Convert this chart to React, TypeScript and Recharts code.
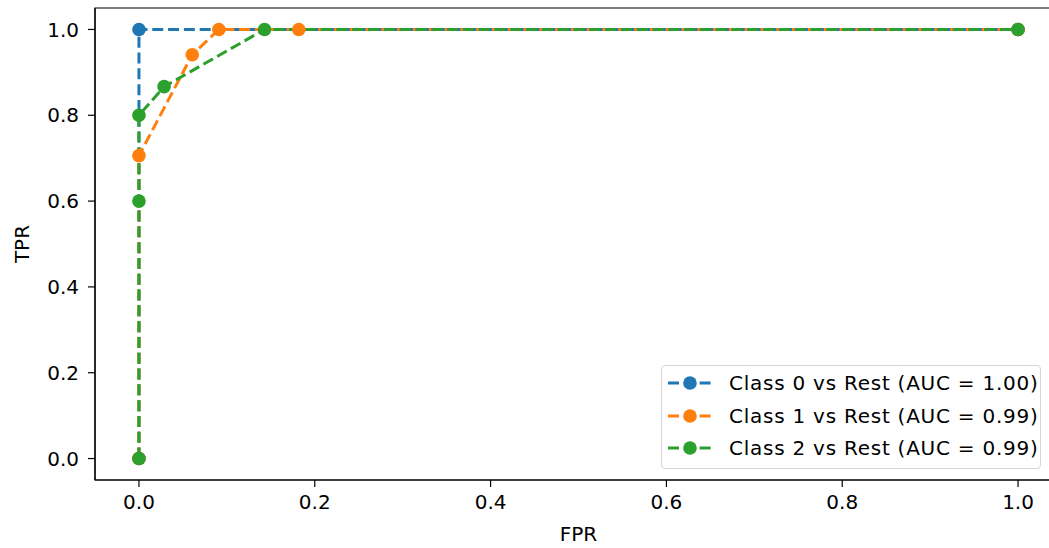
import React from 'react';
import { LineChart, Line, XAxis, YAxis, Legend, ReferenceArea } from 'recharts';

// ROC points per class (one-vs-rest)
const class0Fpr = [0, 0, 1];
const class0Tpr = [0, 1, 1];
const class1Fpr = [0, 0, 0.0606, 0.0909, 0.1818, 1];
const class1Tpr = [0, 0.7059, 0.9412, 1, 1, 1];
const class2Fpr = [0, 0, 0, 0.0286, 0.1429, 1];
const class2Tpr = [0, 0.6, 0.8, 0.8667, 1, 1];

const seriesNames = [
  'Class 0 vs Rest (AUC = 1.00)',
  'Class 1 vs Rest (AUC = 0.99)',
  'Class 2 vs Rest (AUC = 0.99)',
];
const seriesColors = ['#1f77b4', '#ff7f0e', '#2ca02c'];
const axisTicks = [0, 0.2, 0.4, 0.6, 0.8, 1.0];
const axisDomain: [number, number] = [-0.05, 1.05];

const toPoints = (fpr: number[], tpr: number[]) =>
  fpr.map((x, i) => ({ fpr: x, tpr: tpr[i] }));

const series = [
  toPoints(class0Fpr, class0Tpr),
  toPoints(class1Fpr, class1Tpr),
  toPoints(class2Fpr, class2Tpr),
];

const FONT = '"DejaVu Sans", sans-serif';
const DASH = '11 4.8';

const tickStyle = { fontSize: 20, fill: '#000', fontFamily: FONT };

const YLabel = (props: any) => {
  const vb = props.viewBox || { x: 0, y: 8, width: 95, height: 472 };
  const x = vb.x + 22;
  const y = vb.y + vb.height / 2;
  return (
    <text
      x={x}
      y={y}
      transform={`rotate(-90, ${x}, ${y})`}
      textAnchor="middle"
      dominantBaseline="central"
      fontSize={20}
      fontFamily={FONT}
      fill="#000"
    >
      TPR
    </text>
  );
};

const XLabel = (props: any) => {
  const vb = props.viewBox || { x: 95, y: 480, width: 967, height: 68 };
  return (
    <text
      x={vb.x + vb.width / 2}
      y={vb.y + 53.5}
      textAnchor="middle"
      dominantBaseline="central"
      fontSize={20}
      fontFamily={FONT}
      fill="#000"
    >
      FPR
    </text>
  );
};

const RocLegend = () => (
  <div
    style={{
      boxSizing: 'border-box',
      width: 380,
      height: 104,
      padding: '1px 0 0 6px',
      border: '1px solid #d6d6d6',
      borderRadius: 4,
      background: 'rgba(255,255,255,0.8)',
      fontFamily: FONT,
      fontSize: 20,
      letterSpacing: 0.75,
      color: '#000',
    }}
  >
    {seriesNames.map((name, i) => (
      <div key={name} style={{ display: 'flex', alignItems: 'center', height: 32.5 }}>
        <svg width={44} height={16} style={{ marginRight: 17 }}>
          <line x1={0} y1={8} x2={44} y2={8} stroke={seriesColors[i]} strokeWidth={3} strokeDasharray={DASH} />
          <circle cx={22} cy={8} r={6.8} fill={seriesColors[i]} />
        </svg>
        <span style={{ whiteSpace: 'nowrap' }}>{name}</span>
      </div>
    ))}
  </div>
);

export default function App() {
  return (
    <div
      style={{
        position: 'absolute',
        left: 0,
        top: 0,
        width: 1049,
        height: 548,
        overflow: 'hidden',
        background: '#fff',
      }}
    >
      <LineChart width={1074} height={548} margin={{ top: 8, right: 12, bottom: 0, left: 0 }}>
        <XAxis
          dataKey="fpr"
          type="number"
          domain={axisDomain}
          ticks={axisTicks}
          allowDataOverflow
          tickFormatter={(v: number) => v.toFixed(1)}
          height={68}
          tickSize={7}
          tickMargin={8}
          tick={tickStyle}
          axisLine={{ stroke: '#000', strokeWidth: 1.2 }}
          tickLine={{ stroke: '#000', strokeWidth: 1.2 }}
          label={<XLabel />}
        />
        <YAxis
          type="number"
          domain={axisDomain}
          ticks={axisTicks}
          allowDataOverflow
          tickFormatter={(v: number) => v.toFixed(1)}
          width={95}
          tickSize={7}
          tickMargin={9}
          tick={tickStyle}
          axisLine={{ stroke: '#000', strokeWidth: 1.2 }}
          tickLine={{ stroke: '#000', strokeWidth: 1.2 }}
          label={<YLabel />}
        />
        {/* plot frame (top / right spines) */}
        <ReferenceArea
          x1={axisDomain[0]}
          x2={axisDomain[1]}
          y1={axisDomain[0]}
          y2={axisDomain[1]}
          fill="none"
          fillOpacity={0}
          stroke="#000"
          strokeWidth={1.2}
          ifOverflow="visible"
        />
        {series.map((data, i) => (
          <Line
            key={seriesNames[i]}
            data={data}
            dataKey="tpr"
            name={seriesNames[i]}
            type="linear"
            stroke={seriesColors[i]}
            strokeWidth={3}
            strokeDasharray={DASH}
            dot={{ r: 6.8, fill: seriesColors[i], stroke: 'none' }}
            activeDot={false}
            isAnimationActive={false}
          />
        ))}
        <Legend
          layout="horizontal"
          align="center"
          verticalAlign="middle"
          content={<RocLegend />}
          wrapperStyle={{ left: 661, top: 365, width: 380, height: 104 }}
        />
      </LineChart>
    </div>
  );
}
